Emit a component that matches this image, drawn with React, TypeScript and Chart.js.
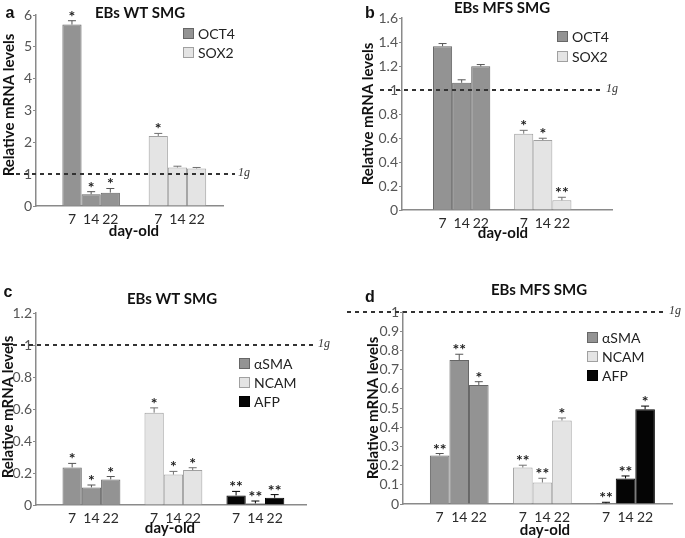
import { useEffect, useRef } from 'react';
import { Chart, registerables } from 'chart.js';
Chart.register(...registerables);

const W = 685;
const H = 538;
const FONT = 'Lato, "Liberation Sans", sans-serif';
const AXIS = '#8a8a8a';
const YTICK = '#555555';
const XTICK = '#2a2a2a';

// ---- data ----
const days = ['7', '14', '22'];

// a: EBs WT SMG (pluripotency)
const wtOct4 = [5.7, 0.37, 0.42];
const wtOct4Sd = [0.12, 0.08, 0.13];
const wtOct4Sig = ['*', '*', '*'];
const wtSox2 = [2.2, 1.21, 1.18];
const wtSox2Sd = [0.08, 0.04, 0.03];
const wtSox2Sig = ['*', '', ''];
const yTicksA = [0, 1, 2, 3, 4, 5, 6];

// b: EBs MFS SMG (pluripotency)
const mfsOct4 = [1.365, 1.06, 1.197];
const mfsOct4Sd = [0.022, 0.025, 0.015];
const mfsOct4Sig = ['', '', ''];
const mfsSox2 = [0.636, 0.583, 0.081];
const mfsSox2Sd = [0.028, 0.015, 0.025];
const mfsSox2Sig = ['*', '*', '**'];
const yTicksB = [0, 0.2, 0.4, 0.6, 0.8, 1, 1.2, 1.4, 1.6];

// c: EBs WT SMG (differentiation)
const wtSma = [0.235, 0.11, 0.16];
const wtSmaSd = [0.025, 0.015, 0.018];
const wtSmaSig = ['*', '*', '*'];
const wtNcam = [0.577, 0.19, 0.218];
const wtNcamSd = [0.03, 0.02, 0.015];
const wtNcamSig = ['*', '*', '*'];
const wtAfp = [0.06, 0.01, 0.045];
const wtAfpSd = [0.025, 0.015, 0.02];
const wtAfpSig = ['**', '**', '**'];
const yTicksC = [0, 0.2, 0.4, 0.6, 0.8, 1, 1.2];

// d: EBs MFS SMG (differentiation)
const mfsSma = [0.253, 0.75, 0.62];
const mfsSmaSd = [0.01, 0.03, 0.017];
const mfsSmaSig = ['**', '**', '*'];
const mfsNcam = [0.19, 0.112, 0.435];
const mfsNcamSd = [0.012, 0.022, 0.013];
const mfsNcamSig = ['**', '**', '*'];
const mfsAfp = [0.004, 0.133, 0.493];
const mfsAfpSd = [0.005, 0.013, 0.017];
const mfsAfpSig = ['**', '**', '*'];
const yTicksD = [0, 0.1, 0.2, 0.3, 0.4, 0.5, 0.6, 0.7, 0.8, 0.9, 1];

// ---- styles ----
const DARK = { fill: '#939393', border: '#666666', err: '#555555' };
const LIGHT = { fill: '#e4e4e4', border: '#a0a0a0', err: '#707070' };
const BLACK = { fill: '#050505', border: '#000000', err: '#000000' };

type Series = { label: string; values: number[]; sd: number[]; sig: string[]; fill: string; border: string; err: string };
type Panel = {
  letter: string; title: string; series: Series[]; yTicks: number[];
  area: { l: number; t: number; r: number; b: number };
  slots: number; starts: number[];
  titleXY: [number, number]; letterXY: [number, number]; yTitleXY: [number, number]; xTitleXY: [number, number];
  legendXY: [number, number]; legendGap: number; dash: [number, number]; gX: number;
};

const panels: Panel[] = [
  {
    letter: 'a', title: 'EBs WT SMG', yTicks: yTicksA,
    series: [
      { label: 'OCT4', values: wtOct4, sd: wtOct4Sd, sig: wtOct4Sig, ...DARK },
      { label: 'SOX2', values: wtSox2, sd: wtSox2Sd, sig: wtSox2Sig, ...LIGHT },
    ],
    area: { l: 36, t: 15, r: 223, b: 206 }, slots: 39, starts: [7, 25],
    titleXY: [140, 13], letterXY: [10, 14], yTitleXY: [9, 105], xTitleXY: [134, 231],
    legendXY: [183, 28], legendGap: 19, dash: [8, 235], gX: 238,
  },
  {
    letter: 'b', title: 'EBs MFS SMG', yTicks: yTicksB,
    series: [
      { label: 'OCT4', values: mfsOct4, sd: mfsOct4Sd, sig: mfsOct4Sig, ...DARK },
      { label: 'SOX2', values: mfsSox2, sd: mfsSox2Sd, sig: mfsSox2Sig, ...LIGHT },
    ],
    area: { l: 402, t: 18, r: 612, b: 210 }, slots: 44, starts: [8, 25],
    titleXY: [502, 8], letterXY: [370, 14], yTitleXY: [368, 114], xTitleXY: [503, 233],
    legendXY: [557, 31], legendGap: 19.5, dash: [380, 602], gX: 606,
  },
  {
    letter: 'c', title: 'EBs WT SMG', yTicks: yTicksC,
    series: [
      { label: 'αSMA', values: wtSma, sd: wtSmaSd, sig: wtSmaSig, ...DARK },
      { label: 'NCAM', values: wtNcam, sd: wtNcamSd, sig: wtNcamSig, ...LIGHT },
      { label: 'AFP', values: wtAfp, sd: wtAfpSd, sig: wtAfpSig, ...BLACK },
    ],
    area: { l: 36, t: 313, r: 306, b: 505 }, slots: 56, starts: [7, 24, 41],
    titleXY: [172, 299], letterXY: [8, 293], yTitleXY: [8, 407], xTitleXY: [170, 528],
    legendXY: [239, 358], legendGap: 19, dash: [5, 315], gX: 318,
  },
  {
    letter: 'd', title: 'EBs MFS SMG', yTicks: yTicksD,
    series: [
      { label: 'αSMA', values: mfsSma, sd: mfsSmaSd, sig: mfsSmaSig, ...DARK },
      { label: 'NCAM', values: mfsNcam, sd: mfsNcamSd, sig: mfsNcamSig, ...LIGHT },
      { label: 'AFP', values: mfsAfp, sd: mfsAfpSd, sig: mfsAfpSig, ...BLACK },
    ],
    area: { l: 403, t: 312, r: 672, b: 504 }, slots: 55, starts: [7, 24, 41],
    titleXY: [539, 290], letterXY: [370, 298], yTitleXY: [373, 408], xTitleXY: [545, 530],
    legendXY: [587, 332], legendGap: 19, dash: [347, 665], gX: 669,
  },
];

function decor(p: Panel) {
  return {
    id: 'decor' + p.letter,
    afterDatasetsDraw(chart: any) {
      const ctx = chart.ctx;
      const y = chart.scales.y;
      p.series.forEach((s, si) => {
        const meta = chart.getDatasetMeta(si);
        days.forEach((_, k) => {
          const el = meta.data[p.starts[si] + 4 * k];
          if (!el) return;
          const top = y.getPixelForValue(s.values[k] + s.sd[k]);
          ctx.save();
          ctx.strokeStyle = s.err;
          ctx.lineWidth = 1;
          ctx.beginPath();
          ctx.moveTo(el.x, el.y);
          ctx.lineTo(el.x, top);
          ctx.moveTo(el.x - 4, top);
          ctx.lineTo(el.x + 4, top);
          ctx.stroke();
          if (s.sig[k]) {
            ctx.fillStyle = '#222';
            ctx.font = `bold 16px ${FONT}`;
            ctx.textAlign = 'center';
            ctx.textBaseline = 'alphabetic';
            ctx.fillText(s.sig[k], el.x, top + 1);
          }
          ctx.restore();
        });
      });
    },
    afterDraw(chart: any) {
      const ctx = chart.ctx;
      const y = chart.scales.y;
      ctx.save();
      // reference line at 1
      const y1 = Math.round(y.getPixelForValue(1));
      ctx.strokeStyle = '#333';
      ctx.lineWidth = 2;
      ctx.setLineDash([4, 4]);
      ctx.beginPath();
      ctx.moveTo(p.dash[0], y1);
      ctx.lineTo(p.dash[1], y1);
      ctx.stroke();
      ctx.setLineDash([]);
      ctx.fillStyle = '#333';
      ctx.font = 'italic 12px "Liberation Serif", serif';
      ctx.textAlign = 'left';
      ctx.textBaseline = 'middle';
      ctx.fillText('1g', p.gX, y1 - 1);

      ctx.fillStyle = '#111';
      ctx.textAlign = 'center';
      ctx.textBaseline = 'middle';
      ctx.font = `bold 15px ${FONT}`;
      ctx.fillText(p.title, p.titleXY[0], p.titleXY[1]);
      ctx.font = 'bold 16px "Liberation Sans", sans-serif';
      ctx.fillText(p.letter, p.letterXY[0], p.letterXY[1]);
      ctx.font = `bold 15px ${FONT}`;
      ctx.fillText('day-old', p.xTitleXY[0], p.xTitleXY[1]);
      ctx.save();
      ctx.translate(p.yTitleXY[0], p.yTitleXY[1]);
      ctx.rotate(-Math.PI / 2);
      ctx.fillText('Relative mRNA levels', 0, 0);
      ctx.restore();

      // legend
      ctx.font = `14px ${FONT}`;
      ctx.textAlign = 'left';
      p.series.forEach((s, i) => {
        const bx = p.legendXY[0];
        const by = Math.round(p.legendXY[1] + i * p.legendGap);
        ctx.fillStyle = s.fill;
        ctx.fillRect(bx, by, 11, 11);
        ctx.strokeStyle = s.border;
        ctx.lineWidth = 1;
        ctx.strokeRect(bx + 0.5, by + 0.5, 10, 10);
        ctx.fillStyle = '#222';
        ctx.fillText(s.label, bx + 15, by + 6);
      });
      ctx.restore();
    },
  };
}

function PanelChart({ p }: { p: Panel }) {
  const ref = useRef<HTMLCanvasElement>(null);
  useEffect(() => {
    const labels: string[] = Array(p.slots).fill('');
    p.starts.forEach((s) => days.forEach((d, k) => { labels[s + 4 * k] = d; }));
    const datasets = p.series.map((s, si) => {
      const data: (number | null)[] = Array(p.slots).fill(null);
      days.forEach((_, k) => { data[p.starts[si] + 4 * k] = s.values[k]; });
      return {
        label: s.label, data, backgroundColor: s.fill, borderColor: s.border, borderWidth: 1,
        grouped: false, barPercentage: 4, categoryPercentage: 1,
      };
    });
    const yW = 30;
    const xH = 20;
    const chart = new Chart(ref.current as HTMLCanvasElement, {
      type: 'bar',
      data: { labels, datasets } as any,
      options: {
        animation: false,
        responsive: false,
        layout: { padding: { left: p.area.l - yW, top: p.area.t, right: W - p.area.r, bottom: H - p.area.b - xH } },
        plugins: { legend: { display: false }, tooltip: { enabled: false } },
        scales: {
          x: {
            type: 'category',
            grid: { display: false, drawTicks: false },
            border: { display: true, color: AXIS, width: 1.5 },
            ticks: { autoSkip: false, maxRotation: 0, minRotation: 0, padding: 5, color: XTICK, font: { family: FONT, size: 14 } },
            afterFit: (s: any) => { s.height = xH; },
          },
          y: {
            min: p.yTicks[0],
            max: p.yTicks[p.yTicks.length - 1],
            afterBuildTicks: (s: any) => { s.ticks = p.yTicks.map((v) => ({ value: v })); },
            grid: { drawOnChartArea: false, drawTicks: true, tickLength: 3, color: AXIS },
            border: { display: true, color: AXIS, width: 1.5 },
            ticks: { autoSkip: false, padding: 1, color: YTICK, font: { family: FONT, size: 14 }, callback: (v: any) => String(v) },
            afterFit: (s: any) => { s.width = yW; },
          },
        },
      } as any,
      plugins: [decor(p)],
    });
    return () => chart.destroy();
  }, [p]);
  return <canvas ref={ref} width={W} height={H} style={{ position: 'absolute', left: 0, top: 0 }} />;
}

export default function App() {
  return (
    <div style={{ position: 'absolute', left: 0, top: 0, width: W, height: H, background: '#fff' }}>
      {panels.map((p) => <PanelChart key={p.letter} p={p} />)}
    </div>
  );
}
